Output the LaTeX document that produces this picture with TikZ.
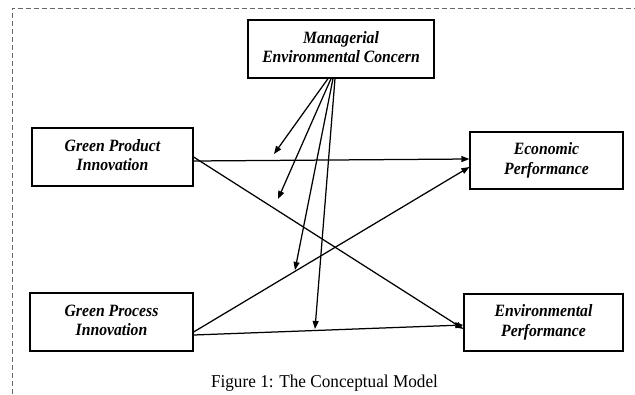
\documentclass[tikz,border=0pt]{standalone}
\usepackage{fontspec}
\setmainfont{Liberation Serif}
\usetikzlibrary{arrows.meta}
\newcommand\boxtxt[2]{\scalebox{1}[1.1]{\begin{tabular}{@{}c@{}}#1\\#2\end{tabular}}}
\begin{document}
\begin{tikzpicture}[x=1pt,y=-1pt,
  box/.style={draw, line width=1.2pt, rectangle, align=center, inner sep=0pt,
    font=\fontsize{15.7}{18}\selectfont\bfseries\itshape},
  link/.style={line width=1.25pt, -{Triangle[length=8pt,width=6pt]}},
  frame/.style={draw=black!60, line width=0.7pt, dash pattern=on 5pt off 3pt}]
\useasboundingbox (0,0) rectangle (635,394);
\draw[frame] (12,394) -- (12,8) -- (635,8);
\node[box, minimum width=186pt, minimum height=58pt] (mec) at (341,49) {\boxtxt{Managerial}{Environmental Concern}};
\node[box, minimum width=161pt, minimum height=58pt] (gpi) at (112.5,157) {\boxtxt{Green Product}{Innovation}};
\node[box, minimum width=153pt, minimum height=57pt] (eco) at (546.5,160.5) {\boxtxt{Economic}{Performance}};
\node[box, minimum width=163pt, minimum height=58pt] (gpr) at (111.5,322) {\boxtxt{Green Process}{Innovation}};
\node[box, minimum width=159pt, minimum height=57pt] (env) at (543.5,322.5) {\boxtxt{Environmental}{Performance}};
\node[font=\fontsize{17.2}{19}\selectfont, anchor=base, yscale=1.05] (cap) at (324.5,387) {Figure 1: The Conceptual Model};
% connectors
\draw[link] ([yshift=-4pt]gpi.east) -- ([yshift=1.5pt]eco.west);
\draw[link] (gpi.east) -- ([yshift=-6.5pt]env.west);
\draw[link] ([yshift=-10pt]gpr.east) -- ([yshift=-6.5pt]eco.west);
\draw[link] ([yshift=-13pt]gpr.east) -- ([yshift=-2.5pt]env.west);
% moderator targets
\coordinate (t1) at (274,154);
\coordinate (t2) at (278,199);
\coordinate (t3) at (295,270);
\coordinate (t4) at (315,329);
\draw[link] ([xshift=-13pt]mec.south) -- (t1);
\draw[link] ([xshift=-10pt]mec.south) -- (t2);
\draw[link] ([xshift=-8pt]mec.south) -- (t3);
\draw[link] ([xshift=-6pt]mec.south) -- (t4);
\end{tikzpicture}
\end{document}
